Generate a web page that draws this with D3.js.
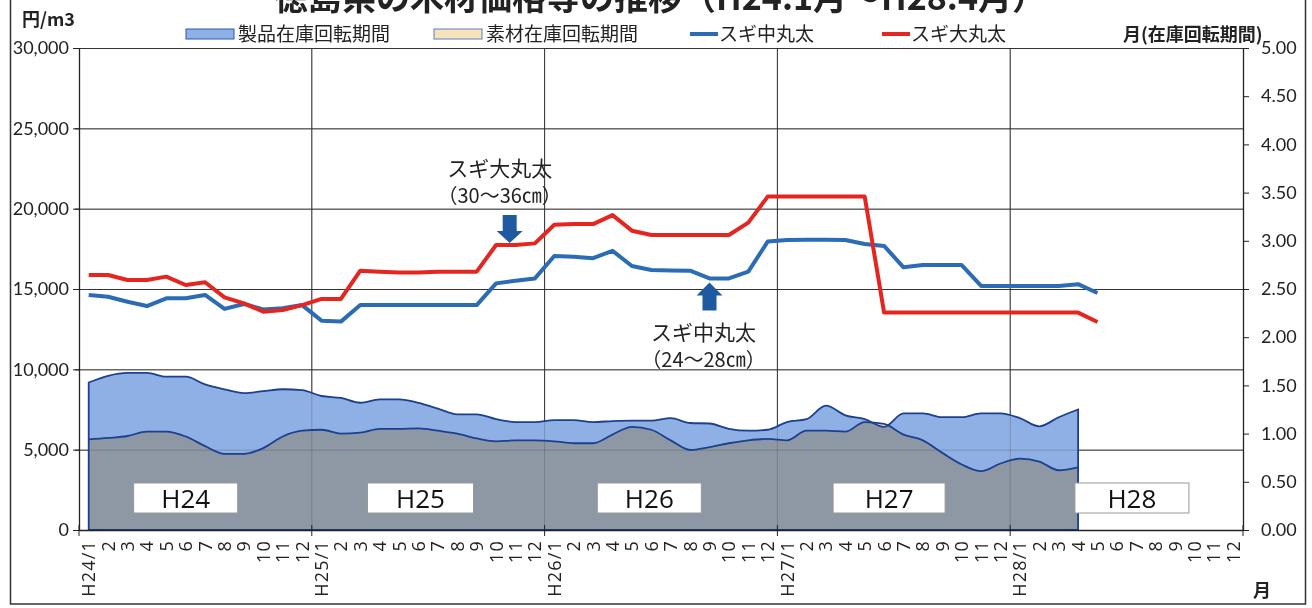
<!DOCTYPE html>
<html>
<head>
<meta charset="utf-8">
<script src="https://cdn.jsdelivr.net/npm/d3@7"></script>
<style>
  body { margin: 0; background: #fff; }
  svg text { font-family: Lato, "Noto Sans CJK JP", sans-serif; fill: #222; }
  .jp { font-family: "Noto Sans CJK JP", sans-serif !important; }
</style>
</head>
<body>
<div class="chart"></div>
<script>
var months = [
  "H24/1","2","3","4","5","6","7","8","9","10","11","12",
  "H25/1","2","3","4","5","6","7","8","9","10","11","12",
  "H26/1","2","3","4","5","6","7","8","9","10","11","12",
  "H27/1","2","3","4","5","6","7","8","9","10","11","12",
  "H28/1","2","3","4","5","6","7","8","9","10","11","12"
];

// 円/m3, H24/1 .. H28/5
var sugiChu = [14630,14520,14210,13940,14420,14420,14630,13760,14070,13730,13800,14000,
  13030,12970,14000,14000,14000,14000,14000,14000,14000,15350,15520,15660,
  17050,17000,16920,17380,16430,16180,16150,16140,15660,15660,16080,17950,
  18050,18060,18060,18050,17800,17680,16350,16490,16490,16490,15190,15190,
  15190,15190,15190,15300,14750];
var sugiDai = [15870,15870,15560,15560,15770,15250,15420,14480,14110,13590,13690,14000,
  14380,14380,16140,16080,16020,16020,16080,16080,16080,17740,17740,17840,
  19000,19040,19040,19600,18630,18360,18360,18360,18360,18360,19130,20750,
  20750,20750,20750,20750,20750,13530,13530,13530,13530,13530,13530,13530,
  13530,13530,13530,13530,12950];

// 月, H24/1 .. H28/4
var seihin = [1.53,1.60,1.63,1.63,1.59,1.59,1.51,1.46,1.42,1.44,1.46,1.45,
  1.39,1.37,1.32,1.355,1.355,1.32,1.26,1.20,1.20,1.15,1.12,1.12,
  1.14,1.14,1.12,1.13,1.135,1.135,1.16,1.11,1.105,1.05,1.03,1.04,
  1.12,1.15,1.29,1.19,1.15,1.07,1.21,1.21,1.17,1.17,1.21,1.21,
  1.16,1.075,1.17,1.25];
var sozai = [0.94,0.955,0.975,1.02,1.02,0.97,0.87,0.79,0.79,0.85,0.97,1.03,
  1.04,1.00,1.01,1.05,1.05,1.055,1.03,1.00,0.95,0.92,0.93,0.93,
  0.92,0.90,0.90,0.99,1.07,1.04,0.93,0.83,0.86,0.90,0.93,0.945,
  0.93,1.03,1.03,1.02,1.12,1.10,0.99,0.93,0.80,0.68,0.61,0.69,
  0.74,0.71,0.62,0.65];

var yearLabels = ["H24","H25","H26","H27","H28"];
var leftTicks = [0,5000,10000,15000,20000,25000,30000];
var rightTicks = [0,0.5,1,1.5,2,2.5,3,3.5,4,4.5,5];

var svgWidth = 1312, svgHeight = 608;
var x0 = 79, x1 = 1243, yTop = 48, yBot = 530;

var svg = d3.select(".chart").append("svg")
  .attr("width", svgWidth).attr("height", svgHeight);

var x = d3.scaleBand().domain(d3.range(months.length)).range([x0, x1]).padding(0);
var bw = x.bandwidth();
var cx = function(i) { return x(i) + bw / 2; };
var yL = d3.scaleLinear().domain([0, 30000]).range([yBot, yTop]);
var yR = d3.scaleLinear().domain([0, 5]).range([yBot, yTop]);

// outer frame
svg.append("rect").attr("x", 10.5).attr("y", -5).attr("width", 1295).attr("height", 609)
  .attr("fill", "none").attr("stroke", "#333").attr("stroke-width", 1.5);

// title (cut off at the top like the scan)
svg.append("text").attr("class", "jp")
  .attr("x", 660).attr("y", 10).attr("text-anchor", "middle")
  .style("font-size", "34px").style("font-weight", "bold")
  .text("徳島県の木材価格等の推移（H24.1月～H28.4月）");

// grid
var grid = svg.append("g");
function drawGrid(g, op) {
  g.selectAll(".hg").data(leftTicks).enter().append("line")
    .attr("x1", x0 - 4).attr("x2", x1)
    .attr("y1", function(d) { return yL(d) + 0.5; }).attr("y2", function(d) { return yL(d) + 0.5; })
    .attr("stroke", "#333").attr("stroke-width", 1).attr("stroke-opacity", op);
  g.selectAll(".vg").data([12, 24, 36, 48]).enter().append("line")
    .attr("x1", function(d) { return x(d); }).attr("x2", function(d) { return x(d); })
    .attr("y1", yTop).attr("y2", yBot)
    .attr("stroke", "#333").attr("stroke-width", 1).attr("stroke-opacity", op);
}
drawGrid(grid, 1);

// inventory areas
var areaProd = d3.area().x(function(d, i) { return cx(i); })
  .y0(yBot).y1(function(d) { return yR(d); }).curve(d3.curveMonotoneX);
var lineProd = d3.line().x(function(d, i) { return cx(i); })
  .y(function(d) { return yR(d); }).curve(d3.curveMonotoneX);

svg.append("path").datum(seihin).attr("d", areaProd).attr("fill", "#8fb0e4");
svg.append("path").datum(sozai).attr("d", areaProd).attr("fill", "#fddcb9")
  .style("mix-blend-mode", "multiply");
drawGrid(svg.append("g"), 0.25);
svg.append("path").datum(seihin).attr("d", areaProd).attr("fill", "none")
  .attr("stroke", "#1d3f8f").attr("stroke-width", 1.8);
svg.append("path").datum(sozai).attr("d", lineProd).attr("fill", "none")
  .attr("stroke", "#1d3f8f").attr("stroke-width", 1.8);

// year boxes
var boxW = [104, 106, 104, 112, 114];
var boxShift = [0, 2, -2, 5, 15];
var yb = svg.append("g").selectAll("g").data(yearLabels).enter().append("g")
  .attr("transform", function(d, i) {
    return "translate(" + (cx(i * 12 + 5) - boxW[i] / 2 + boxShift[i]) + ",483)";
  });
yb.append("rect").attr("width", function(d, i) { return boxW[i]; }).attr("height", 30)
  .attr("fill", "#fff").attr("stroke", "#999").attr("stroke-width", 1);
yb.append("text").attr("x", function(d, i) { return boxW[i] / 2; }).attr("y", 25).attr("text-anchor", "middle")
  .style("font-family", "'Open Sans', sans-serif").style("font-size", "26px").style("fill", "#111")
  .text(function(d) { return d; });

// price lines
var priceLine = d3.line().x(function(d, i) { return cx(i); }).y(function(d) { return yL(d); });
svg.append("path").datum(sugiChu).attr("d", priceLine).attr("fill", "none")
  .attr("stroke", "#2b6cb5").attr("stroke-width", 4).attr("stroke-linejoin", "round");
svg.append("path").datum(sugiDai).attr("d", priceLine).attr("fill", "none")
  .attr("stroke", "#e52620").attr("stroke-width", 4).attr("stroke-linejoin", "round");

// axes
var leftAxis = d3.axisLeft(yL).tickValues(leftTicks).tickSize(6).tickSizeOuter(0)
  .tickFormat(d3.format(","));
var gl = svg.append("g").attr("transform", "translate(" + x0 + ",0)").call(leftAxis);
gl.selectAll("text").style("font-size", "18px").attr("x", -10);

var rightAxis = d3.axisRight(yR).tickValues(rightTicks).tickSize(6).tickSizeOuter(0)
  .tickFormat(d3.format(".2f"));
var gr = svg.append("g").attr("transform", "translate(" + x1 + ",0)").call(rightAxis);
gr.selectAll("text").style("font-size", "18px").attr("x", 18);

var bottomAxis = d3.axisBottom(x).tickSize(0).tickSizeOuter(0)
  .tickFormat(function(i) { return months[i]; });
var gb = svg.append("g").attr("transform", "translate(0," + yBot + ")").call(bottomAxis);
gb.selectAll("text")
  .attr("transform", "rotate(-90)").attr("x", -10).attr("y", 0).attr("dy", "0.36em")
  .style("text-anchor", "end").style("font-family", "'Open Sans', sans-serif")
  .style("font-size", "18px").style("letter-spacing", "1.2px");
gb.selectAll(".yt").data([0, 12, 24, 36, 48, 60]).enter().append("line")
  .attr("x1", function(d) { return x0 + d * bw; }).attr("x2", function(d) { return x0 + d * bw; })
  .attr("y1", -5).attr("y2", 6).attr("stroke", "#222");
svg.selectAll(".domain").attr("stroke", "#222").attr("stroke-width", 1.3);
svg.selectAll(".tick line").attr("stroke", "#222");

// arrows + callouts
var arrowColor = "#1f5aa0";
var tx = x(22) + bw * 0.2, ty = yL(sugiDai[22]) - 2;
svg.append("path").attr("fill", arrowColor)
  .attr("d", "M" + (tx - 13) + "," + (ty - 12) + "L" + tx + "," + ty + "L" + (tx + 13) + "," + (ty - 12) +
    "L" + (tx + 7) + "," + (ty - 12) + "L" + (tx + 7) + "," + (ty - 28) + "L" + (tx - 7) + "," + (ty - 28) +
    "L" + (tx - 7) + "," + (ty - 12) + "Z");
var ux = cx(32), uy = yL(sugiChu[32]) + 4;
svg.append("path").attr("fill", arrowColor)
  .attr("d", "M" + (ux - 13) + "," + (uy + 13) + "L" + ux + "," + uy + "L" + (ux + 13) + "," + (uy + 13) +
    "L" + (ux + 7) + "," + (uy + 13) + "L" + (ux + 7) + "," + (uy + 28) + "L" + (ux - 7) + "," + (uy + 28) +
    "L" + (ux - 7) + "," + (uy + 13) + "Z");

function callout(cxp, yp, l1, l2) {
  svg.append("text").attr("class", "jp").attr("x", cxp).attr("y", yp).attr("text-anchor", "middle")
    .style("font-size", "21px").text(l1);
  svg.append("text").attr("class", "jp").attr("x", cxp).attr("y", yp + 27).attr("text-anchor", "middle")
    .style("font-size", "20px").text(l2);
}
callout(tx - 10, 176, "スギ大丸太", "（30～36㎝）");
callout(ux - 6, 340, "スギ中丸太", "（24～28㎝）");

// axis titles
svg.append("text").attr("class", "jp").attr("x", 22).attr("y", 26)
  .style("font-size", "18px").style("font-weight", "bold").text("円/m3");
svg.append("text").attr("class", "jp").attr("x", 1123).attr("y", 41)
  .style("font-size", "18px").style("font-weight", "bold").text("月(在庫回転期間)");
svg.append("text").attr("class", "jp").attr("x", 1253).attr("y", 597)
  .style("font-size", "18px").style("font-weight", "bold").text("月");

// legend
var lg = svg.append("g");
lg.append("rect").attr("x", 186).attr("y", 29).attr("width", 48).attr("height", 10)
  .attr("fill", "#8fb0e4").attr("stroke", "#2a5caa");
lg.append("text").attr("class", "jp").attr("x", 238).attr("y", 41).style("font-size", "19px").text("製品在庫回転期間");
lg.append("rect").attr("x", 434).attr("y", 29).attr("width", 48).attr("height", 10)
  .attr("fill", "#f6e3bb").attr("stroke", "#5b7fc0");
lg.append("text").attr("class", "jp").attr("x", 486).attr("y", 41).style("font-size", "19px").text("素材在庫回転期間");
lg.append("line").attr("x1", 690).attr("x2", 718).attr("y1", 34).attr("y2", 34)
  .attr("stroke", "#2b6cb5").attr("stroke-width", 4);
lg.append("text").attr("class", "jp").attr("x", 719).attr("y", 41).style("font-size", "19px").text("スギ中丸太");
lg.append("line").attr("x1", 882).attr("x2", 910).attr("y1", 34).attr("y2", 34)
  .attr("stroke", "#e52620").attr("stroke-width", 4);
lg.append("text").attr("class", "jp").attr("x", 911).attr("y", 41).style("font-size", "19px").text("スギ大丸太");
</script>
</body>
</html>
